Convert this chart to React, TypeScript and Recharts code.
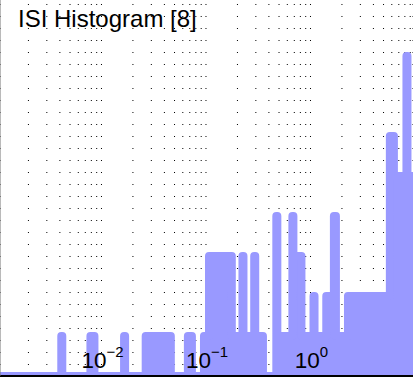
import React from 'react';
import { ComposedChart, Area, XAxis, YAxis, CartesianGrid } from 'recharts';

// ISI histogram: left bin edge (s) and the count that holds up to the next edge
const binEdges = [
  0.001, 0.004125, 0.004217, 0.007839, 0.008563, 0.01645, 0.01683, 0.02649, 0.04609,
  0.06713, 0.07335, 0.09567, 0.1069, 0.1766, 0.2234, 0.2284, 0.2894, 0.2959, 0.3509,
  0.4711, 0.4817, 0.6713, 0.6863, 0.8192, 1.069, 1.093, 1.416, 1.675, 1.751, 2.284,
  5.747, 6.283, 8.284, 8.471, 10,
];
const binCounts = [
  0, 1, 0, 1, 0, 1, 0, 1, 0,
  1, 0, 1, 3, 1, 3, 1, 3, 1, 0,
  4, 1, 4, 3, 1, 2, 1, 2, 4, 1, 2,
  6, 5, 8, 5, 5,
];

const decadeExponents = [-2, -1, 0];
const countTicks = [2, 4, 6, 8];

const xDomain: [number, number] = [0.001069, 9.57];
const yDomain: [number, number] = [0, 9.4];

const data = binEdges.map((x, i) => ({ x, n: binCounts[i] }));

// minor log grid lines (k * 10^e)
const gridTicks: number[] = [];
for (let e = -3; e <= 0; e++) {
  for (let k = 1; k <= 9; k++) {
    const v = +(k * Math.pow(10, e)).toPrecision(3);
    if (v > xDomain[0] && v < xDomain[1]) gridTicks.push(v);
  }
}

const FONT = '"Liberation Sans", Arial, sans-serif';
const BAR = '#9999ff';

const DecadeTick = (props: any) => {
  const { x, y, payload } = props;
  const lg = Math.log10(payload.value);
  const exp = Math.round(lg);
  if (Math.abs(lg - exp) > 1e-6 || !decadeExponents.includes(exp)) return <g />;
  return (
    <text x={x + 1} y={y - 8} textAnchor="middle" fontFamily={FONT} fontSize={22.5} fill="#000">
      10
      <tspan dy={-11} fontSize={15}>
        {exp < 0 ? '\u2212' + -exp : String(exp)}
      </tspan>
    </text>
  );
};

const App: React.FC = () => {
  return (
    <div style={{ position: 'absolute', left: 0, top: 0, width: 413, height: 377, background: '#fff' }}>
      <ComposedChart width={413} height={377} data={data} margin={{ top: 0, right: 0, bottom: 0, left: 0 }}>
        <CartesianGrid horizontal={false} stroke="#000" strokeDasharray="1 11" strokeDashoffset={-4} />
        <Area
          type="stepAfter"
          dataKey="n"
          stroke={BAR}
          strokeWidth={8}
          strokeLinejoin="round"
          fill={BAR}
          fillOpacity={1}
          dot={false}
          activeDot={false}
          isAnimationActive={false}
        />
        <XAxis
          dataKey="x"
          type="number"
          scale="log"
          domain={xDomain}
          allowDataOverflow
          ticks={gridTicks}
          interval={0}
          height={1}
          tickSize={0}
          tickMargin={0}
          tickLine={false}
          tick={DecadeTick}
          axisLine={{ stroke: '#000', strokeWidth: 2 }}
        />
        <YAxis
          type="number"
          domain={yDomain}
          ticks={countTicks}
          width={1}
          mirror
          tick={false}
          tickSize={4}
          tickLine={{ stroke: '#000' }}
          axisLine={{ stroke: '#777' }}
        />
        <YAxis
          yAxisId="right"
          orientation="right"
          type="number"
          domain={yDomain}
          ticks={countTicks}
          width={1}
          mirror
          tick={false}
          tickSize={4}
          tickLine={{ stroke: '#000' }}
          axisLine={false}
        />
      </ComposedChart>
      <div
        style={{
          position: 'absolute',
          left: 18,
          top: 7,
          fontFamily: FONT,
          fontSize: 24,
          lineHeight: 1,
          color: '#000',
          whiteSpace: 'nowrap',
          pointerEvents: 'none',
        }}
      >
        ISI Histogram [8]
      </div>
    </div>
  );
};

export default App;
